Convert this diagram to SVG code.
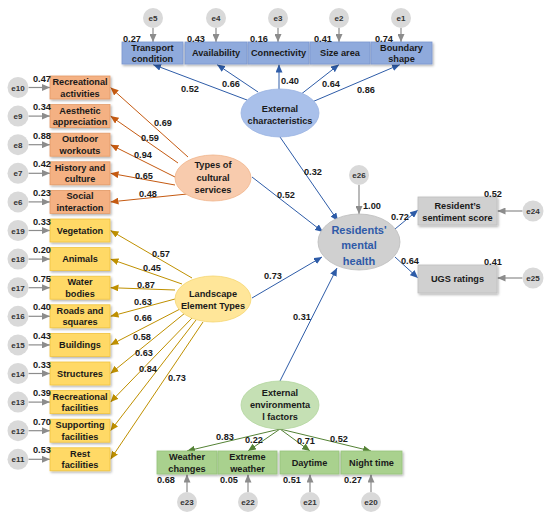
<svg xmlns="http://www.w3.org/2000/svg" width="550" height="518" viewBox="0 0 550 518">
<style>
text{font-family:"Liberation Sans",Arial,sans-serif;font-weight:bold;fill:#1a1a1a;}
.t{font-size:9.2px;text-anchor:middle;}
.n{font-size:9.2px;}
.e{font-size:8px;text-anchor:middle;fill:#333;}
.err{fill:#d9d9d9;}
.ob{fill:#f4b183;stroke:#e49a66;stroke-width:0.8;filter:url(#sh);}
.yb{fill:#ffd966;stroke:#f0c43f;stroke-width:0.8;filter:url(#sh);}
.bb{fill:#8faadc;stroke:#7a97cf;stroke-width:0.8;filter:url(#sh);}
.gb{fill:#a9d18e;stroke:#96c47a;stroke-width:0.8;filter:url(#sh);}
.rb{fill:#d0d0d0;stroke:#bdbdbd;stroke-width:0.8;filter:url(#sh);}
.lb{stroke:#2e5ca8;stroke-width:1;fill:none;marker-end:url(#ab);}
.lo{stroke:#c55a11;stroke-width:1;fill:none;marker-end:url(#ao);}
.ly{stroke:#bf9000;stroke-width:1;fill:none;marker-end:url(#ay);}
.lg{stroke:#548235;stroke-width:1;fill:none;marker-end:url(#ag);}
.lr{stroke:#8c8c8c;stroke-width:1.2;fill:none;marker-end:url(#ar);}
.mh{font-size:11px;text-anchor:middle;fill:#2f5aa8;}
</style>
<defs>
<filter id="sh" x="-10%" y="-10%" width="130%" height="140%"><feDropShadow dx="1.2" dy="1.5" stdDeviation="0.8" flood-color="#000" flood-opacity="0.3"/></filter>
<marker id="ab" markerUnits="userSpaceOnUse" markerWidth="8" markerHeight="7" refX="8" refY="3.5" orient="auto"><path d="M0,0 L8,3.5 L0,7 z" fill="#2e5ca8"/></marker>
<marker id="ao" markerUnits="userSpaceOnUse" markerWidth="8" markerHeight="7" refX="8" refY="3.5" orient="auto"><path d="M0,0 L8,3.5 L0,7 z" fill="#c55a11"/></marker>
<marker id="ay" markerUnits="userSpaceOnUse" markerWidth="8" markerHeight="7" refX="8" refY="3.5" orient="auto"><path d="M0,0 L8,3.5 L0,7 z" fill="#bf9000"/></marker>
<marker id="ag" markerUnits="userSpaceOnUse" markerWidth="8" markerHeight="7" refX="8" refY="3.5" orient="auto"><path d="M0,0 L8,3.5 L0,7 z" fill="#548235"/></marker>
<marker id="ar" markerUnits="userSpaceOnUse" markerWidth="8" markerHeight="7" refX="8" refY="3.5" orient="auto"><path d="M0,0 L8,3.5 L0,7 z" fill="#8c8c8c"/></marker>
</defs>
<rect width="550" height="518" fill="#ffffff"/>

<g id="connectors">
<line class="lb" x1="247" y1="100" x2="153" y2="64.5"/>
<line class="lb" x1="258" y1="92" x2="217" y2="64.5"/>
<line class="lb" x1="279" y1="89" x2="279" y2="64.5"/>
<line class="lb" x1="300" y1="95" x2="339" y2="64.5"/>
<line class="lb" x1="312" y1="102" x2="400" y2="64.5"/>
<line class="lr" x1="153" y1="28" x2="153" y2="42"/>
<line class="lr" x1="216" y1="28" x2="216" y2="42"/>
<line class="lr" x1="278" y1="28" x2="278" y2="42"/>
<line class="lr" x1="339" y1="28" x2="339" y2="42"/>
<line class="lr" x1="401" y1="28" x2="401" y2="42"/>
<line class="lo" x1="188" y1="157" x2="110.5" y2="87.5"/>
<line class="lo" x1="178" y1="163" x2="110.5" y2="116.1"/>
<line class="lo" x1="175" y1="177" x2="110.5" y2="144.7"/>
<line class="lo" x1="175" y1="185" x2="110.5" y2="173.3"/>
<line class="lo" x1="187" y1="194" x2="110.5" y2="201.9"/>
<line class="ly" x1="192" y1="278" x2="110.5" y2="230.5"/>
<line class="ly" x1="182" y1="284" x2="110.5" y2="259.1"/>
<line class="ly" x1="175" y1="290" x2="110.5" y2="287.7"/>
<line class="ly" x1="175" y1="299" x2="110.5" y2="316.3"/>
<line class="ly" x1="182" y1="308" x2="110.5" y2="344.9"/>
<line class="ly" x1="185" y1="313" x2="110.5" y2="373.5"/>
<line class="ly" x1="192" y1="318" x2="110.5" y2="402.1"/>
<line class="ly" x1="196" y1="320" x2="110.5" y2="430.7"/>
<line class="ly" x1="203" y1="322" x2="110.5" y2="459.3"/>
<line class="lr" x1="28.5" y1="87.5" x2="50" y2="87.5"/>
<line class="lr" x1="28.5" y1="116.1" x2="50" y2="116.1"/>
<line class="lr" x1="28.5" y1="144.7" x2="50" y2="144.7"/>
<line class="lr" x1="28.5" y1="173.3" x2="50" y2="173.3"/>
<line class="lr" x1="28.5" y1="201.9" x2="50" y2="201.9"/>
<line class="lr" x1="28.5" y1="230.5" x2="50" y2="230.5"/>
<line class="lr" x1="28.5" y1="259.1" x2="50" y2="259.1"/>
<line class="lr" x1="28.5" y1="287.7" x2="50" y2="287.7"/>
<line class="lr" x1="28.5" y1="316.3" x2="50" y2="316.3"/>
<line class="lr" x1="28.5" y1="344.9" x2="50" y2="344.9"/>
<line class="lr" x1="28.5" y1="373.5" x2="50" y2="373.5"/>
<line class="lr" x1="28.5" y1="402.1" x2="50" y2="402.1"/>
<line class="lr" x1="28.5" y1="430.7" x2="50" y2="430.7"/>
<line class="lr" x1="28.5" y1="459.3" x2="50" y2="459.3"/>
<line class="lb" x1="280" y1="137" x2="338" y2="221"/>
<line class="lb" x1="252" y1="177" x2="323" y2="232"/>
<line class="lb" x1="252" y1="298" x2="322" y2="257"/>
<line class="lb" x1="280" y1="381" x2="337" y2="268"/>
<line class="lr" x1="359" y1="185" x2="359" y2="214"/>
<line class="lb" x1="395" y1="229" x2="418" y2="210"/>
<line class="lb" x1="395" y1="257" x2="418" y2="278"/>
<line class="lr" x1="522.5" y1="211" x2="497.5" y2="211"/>
<line class="lr" x1="522.5" y1="278" x2="497.5" y2="278"/>
<line class="lg" x1="280" y1="429" x2="187" y2="451"/>
<line class="lg" x1="280" y1="429" x2="248" y2="451"/>
<line class="lg" x1="280" y1="429" x2="310" y2="451"/>
<line class="lg" x1="280" y1="429" x2="371" y2="451"/>
<line class="lr" x1="187" y1="492" x2="187" y2="474.5"/>
<line class="lr" x1="248" y1="492" x2="248" y2="474.5"/>
<line class="lr" x1="310" y1="492" x2="310" y2="474.5"/>
<line class="lr" x1="371" y1="492" x2="371" y2="474.5"/>
</g>

<g id="path-labels">
<text class="n" x="181" y="92">0.52</text>
<text class="n" x="222" y="87">0.66</text>
<text class="n" x="281" y="84">0.40</text>
<text class="n" x="322" y="87">0.64</text>
<text class="n" x="357" y="93">0.86</text>
<text class="n" x="154" y="126">0.69</text>
<text class="n" x="141" y="141">0.59</text>
<text class="n" x="134" y="158">0.94</text>
<text class="n" x="135" y="179">0.65</text>
<text class="n" x="139" y="197">0.48</text>
<text class="n" x="152" y="257">0.57</text>
<text class="n" x="143" y="271">0.45</text>
<text class="n" x="137" y="288">0.87</text>
<text class="n" x="134" y="305">0.63</text>
<text class="n" x="134" y="321">0.66</text>
<text class="n" x="133" y="340">0.58</text>
<text class="n" x="135" y="356">0.63</text>
<text class="n" x="139" y="372">0.84</text>
<text class="n" x="168" y="381">0.73</text>
<text class="n" x="304" y="175">0.32</text>
<text class="n" x="277" y="198">0.52</text>
<text class="n" x="264" y="279">0.73</text>
<text class="n" x="293" y="320">0.31</text>
<text class="n" x="363" y="209">1.00</text>
<text class="n" x="391" y="220">0.72</text>
<text class="n" x="401" y="264">0.64</text>
<text class="n" x="216" y="440">0.83</text>
<text class="n" x="245" y="443">0.22</text>
<text class="n" x="297" y="444">0.71</text>
<text class="n" x="330" y="442">0.52</text>
</g>

<g id="ext-char">
<ellipse cx="280" cy="113" rx="39" ry="24" fill="#a9c0ea" stroke="#9bb4e2" stroke-width="0.8"/>
<text class="t" x="280" y="112">External</text>
<text class="t" x="280" y="124">characteristics</text>
</g>
<g id="transport"><circle class="err" cx="153" cy="18" r="10"/><text class="e" x="153" y="21">e5</text><rect class="bb" x="122" y="42" width="61" height="22"/><text class="t" x="152.5" y="50.5">Transport</text><text class="t" x="152.5" y="62">condition</text><text class="n" x="123" y="41.5">0.27</text></g>
<g id="availability"><circle class="err" cx="216" cy="18" r="10"/><text class="e" x="216" y="21">e4</text><rect class="bb" x="185" y="42" width="62" height="22"/><text class="t" x="216" y="56.3">Availability</text><text class="n" x="187" y="41.5">0.43</text></g>
<g id="connectivity"><circle class="err" cx="278" cy="18" r="10"/><text class="e" x="278" y="21">e3</text><rect class="bb" x="248" y="42" width="61" height="22"/><text class="t" x="278.5" y="56.3">Connectivity</text><text class="n" x="250" y="41.5">0.16</text></g>
<g id="size-area"><circle class="err" cx="339" cy="18" r="10"/><text class="e" x="339" y="21">e2</text><rect class="bb" x="310" y="42" width="60" height="22"/><text class="t" x="340" y="56.3">Size area</text><text class="n" x="314" y="41.5">0.41</text></g>
<g id="boundary"><circle class="err" cx="401" cy="18" r="10"/><text class="e" x="401" y="21">e1</text><rect class="bb" x="371" y="42" width="61" height="22"/><text class="t" x="401.5" y="50.5">Boundary</text><text class="t" x="401.5" y="62">shape</text><text class="n" x="375" y="41.5">0.74</text></g>

<g id="cultural">
<ellipse cx="213" cy="178" rx="38" ry="23" fill="#f8cbad" stroke="#f0b48a" stroke-width="0.8"/>
<text class="t" x="213" y="168">Types of</text>
<text class="t" x="213" y="180.5">cultural</text>
<text class="t" x="213" y="193">services</text>
</g>
<g id="rec-act"><circle class="err" cx="18" cy="87.5" r="10.5"/><text class="e" x="18" y="90.5">e10</text><rect class="ob" x="50" y="76" width="60" height="23"/><text class="t" x="80" y="85">Recreational</text><text class="t" x="80" y="96.5">activities</text><text class="n" x="33" y="81.5">0.47</text></g>
<g id="aesthetic"><circle class="err" cx="18" cy="116.1" r="10.5"/><text class="e" x="18" y="119.1">e9</text><rect class="ob" x="50" y="104.6" width="60" height="23"/><text class="t" x="80" y="113.6">Aesthetic</text><text class="t" x="80" y="125.1">appreciation</text><text class="n" x="33" y="110.1">0.34</text></g>
<g id="outdoor"><circle class="err" cx="18" cy="144.7" r="10.5"/><text class="e" x="18" y="147.7">e8</text><rect class="ob" x="50" y="133.2" width="60" height="23"/><text class="t" x="80" y="142.2">Outdoor</text><text class="t" x="80" y="153.7">workouts</text><text class="n" x="33" y="138.7">0.88</text></g>
<g id="history"><circle class="err" cx="18" cy="173.3" r="10.5"/><text class="e" x="18" y="176.3">e7</text><rect class="ob" x="50" y="161.8" width="60" height="23"/><text class="t" x="80" y="170.8">History and</text><text class="t" x="80" y="182.3">culture</text><text class="n" x="33" y="167.3">0.42</text></g>
<g id="social"><circle class="err" cx="18" cy="201.9" r="10.5"/><text class="e" x="18" y="204.9">e6</text><rect class="ob" x="50" y="190.4" width="60" height="23"/><text class="t" x="80" y="199.4">Social</text><text class="t" x="80" y="210.9">interaction</text><text class="n" x="33" y="195.9">0.23</text></g>

<g id="landscape">
<ellipse cx="213" cy="299" rx="38" ry="23" fill="#ffe699" stroke="#f5d670" stroke-width="0.8"/>
<text class="t" x="213" y="297">Landscape</text>
<text class="t" x="213" y="309">Element Types</text>
</g>
<g id="vegetation"><circle class="err" cx="18" cy="230.5" r="10.5"/><text class="e" x="18" y="233.5">e19</text><rect class="yb" x="50" y="219" width="60" height="23"/><text class="t" x="80" y="233.8">Vegetation</text><text class="n" x="33" y="224.5">0.33</text></g>
<g id="animals"><circle class="err" cx="18" cy="259.1" r="10.5"/><text class="e" x="18" y="262.1">e18</text><rect class="yb" x="50" y="247.6" width="60" height="23"/><text class="t" x="80" y="262.4">Animals</text><text class="n" x="33" y="253.1">0.20</text></g>
<g id="water"><circle class="err" cx="18" cy="287.7" r="10.5"/><text class="e" x="18" y="290.7">e17</text><rect class="yb" x="50" y="276.2" width="60" height="23"/><text class="t" x="80" y="285.2">Water</text><text class="t" x="80" y="296.7">bodies</text><text class="n" x="33" y="281.7">0.75</text></g>
<g id="roads"><circle class="err" cx="18" cy="316.3" r="10.5"/><text class="e" x="18" y="319.3">e16</text><rect class="yb" x="50" y="304.8" width="60" height="23"/><text class="t" x="80" y="313.8">Roads and</text><text class="t" x="80" y="325.3">squares</text><text class="n" x="33" y="310.3">0.40</text></g>
<g id="buildings"><circle class="err" cx="18" cy="344.9" r="10.5"/><text class="e" x="18" y="347.9">e15</text><rect class="yb" x="50" y="333.4" width="60" height="23"/><text class="t" x="80" y="348.2">Buildings</text><text class="n" x="33" y="338.9">0.43</text></g>
<g id="structures"><circle class="err" cx="18" cy="373.5" r="10.5"/><text class="e" x="18" y="376.5">e14</text><rect class="yb" x="50" y="362" width="60" height="23"/><text class="t" x="80" y="376.8">Structures</text><text class="n" x="33" y="367.5">0.33</text></g>
<g id="rec-fac"><circle class="err" cx="18" cy="402.1" r="10.5"/><text class="e" x="18" y="405.1">e13</text><rect class="yb" x="50" y="390.6" width="60" height="23"/><text class="t" x="80" y="399.6">Recreational</text><text class="t" x="80" y="411.1">facilities</text><text class="n" x="33" y="396.1">0.39</text></g>
<g id="supporting"><circle class="err" cx="18" cy="430.7" r="10.5"/><text class="e" x="18" y="433.7">e12</text><rect class="yb" x="50" y="419.2" width="60" height="23"/><text class="t" x="80" y="428.2">Supporting</text><text class="t" x="80" y="439.7">facilities</text><text class="n" x="33" y="424.7">0.70</text></g>
<g id="rest"><circle class="err" cx="18" cy="459.3" r="10.5"/><text class="e" x="18" y="462.3">e11</text><rect class="yb" x="50" y="447.8" width="60" height="23"/><text class="t" x="80" y="456.8">Rest</text><text class="t" x="80" y="468.3">facilities</text><text class="n" x="33" y="453.3">0.53</text></g>

<g id="mental-health">
<circle class="err" cx="359" cy="175" r="10"/><text class="e" x="359" y="178">e26</text>
<ellipse cx="359" cy="242" rx="41" ry="28" fill="#d0d0d0" stroke="#bdbdbd" stroke-width="0.8"/>
<text class="mh" x="359" y="233.5">Residents'</text>
<text class="mh" x="359" y="249">mental</text>
<text class="mh" x="359" y="264.5">health</text>
</g>
<g id="sentiment"><rect class="rb" x="418" y="197" width="79" height="28"/><text class="t" x="457.5" y="208.5">Resident’s</text><text class="t" x="457.5" y="220.5">sentiment score</text><text class="n" x="484" y="197">0.52</text><circle class="err" cx="533" cy="211" r="10.5"/><text class="e" x="533" y="214">e24</text></g>
<g id="ugs"><rect class="rb" x="418" y="265" width="79" height="28"/><text class="t" x="457.5" y="282">UGS ratings</text><text class="n" x="484" y="265">0.41</text><circle class="err" cx="533" cy="278" r="10.5"/><text class="e" x="533" y="281">e25</text></g>

<g id="ext-env">
<ellipse cx="280" cy="405" rx="39" ry="24" fill="#c5e0b4" stroke="#b3d59e" stroke-width="0.8"/>
<text class="t" x="280" y="396">External</text>
<text class="t" x="280" y="408">environmenta</text>
<text class="t" x="280" y="420">l factors</text>
</g>
<g id="weather"><rect class="gb" x="157" y="451" width="60" height="23"/><text class="t" x="187" y="460">Weather</text><text class="t" x="187" y="471.5">changes</text><text class="n" x="157" y="483">0.68</text><circle class="err" cx="187" cy="502" r="10"/><text class="e" x="187" y="505">e23</text></g>
<g id="extreme"><rect class="gb" x="218" y="451" width="59" height="23"/><text class="t" x="247.5" y="460">Extreme</text><text class="t" x="247.5" y="471.5">weather</text><text class="n" x="220" y="483">0.05</text><circle class="err" cx="248" cy="502" r="10"/><text class="e" x="248" y="505">e22</text></g>
<g id="daytime"><rect class="gb" x="280" y="451" width="59" height="23"/><text class="t" x="309.5" y="465.8">Daytime</text><text class="n" x="283" y="483">0.51</text><circle class="err" cx="310" cy="502" r="10"/><text class="e" x="310" y="505">e21</text></g>
<g id="night"><rect class="gb" x="341" y="451" width="61" height="23"/><text class="t" x="371.5" y="465.8">Night time</text><text class="n" x="344" y="483">0.27</text><circle class="err" cx="371" cy="502" r="10"/><text class="e" x="371" y="505">e20</text></g>
</svg>
